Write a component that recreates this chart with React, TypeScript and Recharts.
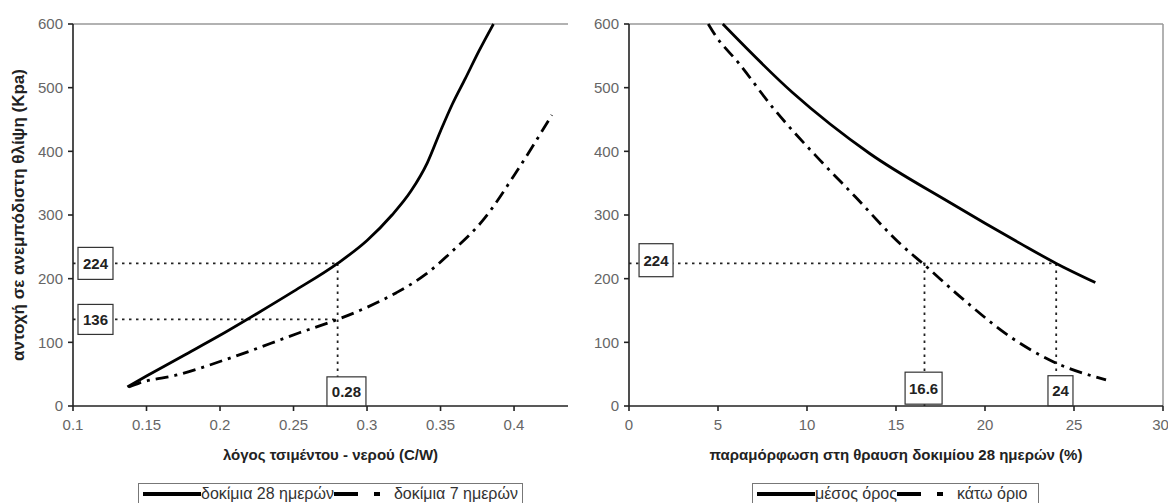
import { LineChart, Line, XAxis, YAxis, ReferenceLine, ReferenceDot } from "recharts";

// left panel: strength vs cement/water ratio
const cwTicks = [0.1, 0.15, 0.2, 0.25, 0.3, 0.35, 0.4];
const strengthTicks = [0, 100, 200, 300, 400, 500, 600];

const cw28 = [0.137, 0.15, 0.175, 0.2, 0.225, 0.25, 0.28, 0.3, 0.317, 0.33, 0.341, 0.35, 0.358, 0.367, 0.376, 0.386];
const strength28 = [30, 47, 79, 111, 145, 180, 224, 260, 300, 338, 382, 432, 474, 515, 557, 600];

const cw7 = [0.138, 0.145, 0.171, 0.209, 0.254, 0.28, 0.3, 0.32, 0.34, 0.3565, 0.38, 0.4, 0.4257];
const strength7 = [30, 36, 49, 77, 115, 136, 155, 178, 207, 240, 295, 362, 457];

// right panel: strength vs strain at failure
const strainTicks = [0, 5, 10, 15, 20, 25, 30];

const strainMean = [5.27, 9.2, 13.5, 18, 20, 22, 24, 26.2];
const strengthMean = [600, 492, 397, 320, 287, 255, 224, 194];

const strainLow = [4.45, 4.83, 6.15, 8.1, 10.7, 12.7, 15.3, 16.5, 18.8, 21.4, 23.8, 26.8];
const strengthLow = [600, 583, 539, 468, 387, 329, 253, 224, 167, 109, 70, 41];

// annotations
const cwMarker = 0.28;
const leftMarks = [224, 136];
const strainMarks = [16.6, 24];
const rightMark = 224;

const leftData28 = cw28.map((x, i) => ({ x, y: strength28[i] }));
const leftData7 = cw7.map((x, i) => ({ x, y: strength7[i] }));
const rightMeanData = strainMean.map((x, i) => ({ x, y: strengthMean[i] }));
const rightLowData = strainLow.map((x, i) => ({ x, y: strengthLow[i] }));

const FONT = '"Liberation Sans", Arial, sans-serif';
const tickStyle = { fill: "#666", fontSize: 15, fontFamily: FONT };
const titleStyle = { fill: "#222", fontSize: 15, fontWeight: "bold", fontFamily: FONT };
const axisLine = { stroke: "#222", strokeWidth: 1.6 };
const guide = { stroke: "#222", strokeWidth: 1.8, strokeDasharray: "2.5 4.5" };
const dashDot = "13 6 3 6";

function boxShape(text: string, w: number, h: number) {
  return (props: any) => {
    const { cx, cy } = props;
    return (
      <g>
        <rect x={cx - w / 2} y={cy - h / 2} width={w} height={h} fill="#fff" stroke="#333" strokeWidth={1.2} />
        <text x={cx} y={cy} dy="0.36em" textAnchor="middle" fontSize={15} fontWeight="bold" fill="#222" fontFamily={FONT}>
          {text}
        </text>
      </g>
    );
  };
}

function LegendBox({ left, width, items }: { left: number; width: number; items: Array<{ label: string; dashed: boolean }> }) {
  return (
    <div
      style={{
        position: "absolute",
        left,
        top: 483,
        width,
        height: 26,
        border: "1px solid #777",
        boxSizing: "border-box",
        display: "flex",
        alignItems: "center",
        paddingLeft: 4,
        paddingBottom: 4,
        fontFamily: FONT,
        fontSize: 16,
        color: "#333",
        background: "#fff",
        whiteSpace: "nowrap",
      }}
    >
      {items.map((it) => (
        <div key={it.label} style={{ display: "flex", alignItems: "center" }}>
          {it.dashed ? (
            <svg width={46} height={10} style={{ marginRight: 14 }}>
              <rect x={0} y={3} width={24} height={4} fill="#000" />
              <rect x={40} y={3} width={6} height={4} fill="#000" />
            </svg>
          ) : (
            <svg width={58} height={10}>
              <rect x={0} y={3} width={58} height={4} fill="#000" />
            </svg>
          )}
          <span>{it.label}</span>
        </div>
      ))}
    </div>
  );
}

export default function App() {
  return (
    <div style={{ position: "absolute", left: 0, top: 0, width: 1168, height: 503, overflow: "hidden", background: "#fff" }}>
      <div style={{ position: "absolute", left: 0, top: 0 }}>
        <LineChart width={580} height={503} margin={{ top: 24, right: 12, left: 0, bottom: 37 }}>
          <XAxis
            type="number"
            dataKey="x"
            domain={[0.1, 0.4367]}
            ticks={cwTicks}
            allowDataOverflow
            height={60}
            tick={tickStyle}
            tickSize={5}
            tickMargin={8}
            axisLine={axisLine}
            tickLine={axisLine}
            label={{ value: "λόγος τσιμέντου - νερού (C/W)", position: "insideBottom", offset: 6, dx: 10, style: titleStyle }}
          />
          <YAxis
            type="number"
            dataKey="y"
            domain={[0, 600]}
            ticks={strengthTicks}
            width={73}
            tick={tickStyle}
            tickSize={5}
            tickMargin={5}
            axisLine={axisLine}
            tickLine={axisLine}
            label={{
              value: "αντοχή σε ανεμπόδιστη θλίψη (Kpa)",
              angle: -90,
              position: "insideLeft",
              offset: 18,
              style: { ...titleStyle, fontSize: 17, textAnchor: "middle" },
            }}
          />
          <ReferenceLine y={600} stroke="#999" strokeWidth={1.5} />
          <ReferenceLine segment={[{ x: 0.1, y: leftMarks[0] }, { x: cwMarker, y: leftMarks[0] }]} {...guide} />
          <ReferenceLine segment={[{ x: 0.1, y: leftMarks[1] }, { x: cwMarker, y: leftMarks[1] }]} {...guide} />
          <ReferenceLine segment={[{ x: cwMarker, y: leftMarks[0] }, { x: cwMarker, y: 0 }]} {...guide} />
          <Line data={leftData28} dataKey="y" type="monotone" stroke="#000" strokeWidth={2.8} dot={false} isAnimationActive={false} />
          <Line data={leftData7} dataKey="y" type="monotone" stroke="#000" strokeWidth={2.8} strokeDasharray={dashDot} dot={false} isAnimationActive={false} />
          <ReferenceDot x={0.1153} y={leftMarks[0]} shape={boxShape("224", 35, 32)} />
          <ReferenceDot x={0.1153} y={leftMarks[1]} shape={boxShape("136", 35, 30)} />
          <ReferenceDot x={0.286} y={23} shape={boxShape("0.28", 39, 29)} />
        </LineChart>
      </div>

      <div style={{ position: "absolute", left: 580, top: 0 }}>
        <LineChart width={588} height={503} margin={{ top: 24, right: 5, left: 0, bottom: 37 }}>
          <XAxis
            type="number"
            dataKey="x"
            domain={[0, 30]}
            ticks={strainTicks}
            height={60}
            tick={tickStyle}
            tickSize={5}
            tickMargin={8}
            axisLine={axisLine}
            tickLine={axisLine}
            label={{ value: "παραμόρφωση στη θραυση δοκιμίου 28 ημερών (%)", position: "insideBottom", offset: 6, style: titleStyle }}
          />
          <YAxis
            type="number"
            dataKey="y"
            domain={[0, 600]}
            ticks={strengthTicks}
            width={49}
            tick={tickStyle}
            tickSize={5}
            tickMargin={5}
            axisLine={axisLine}
            tickLine={axisLine}
          />
          <ReferenceLine y={600} stroke="#999" strokeWidth={1.5} />
          <ReferenceLine x={30} stroke="#999" strokeWidth={1.5} />
          <ReferenceLine segment={[{ x: 0, y: rightMark }, { x: strainMarks[1], y: rightMark }]} {...guide} />
          <ReferenceLine segment={[{ x: strainMarks[0], y: rightMark }, { x: strainMarks[0], y: 0 }]} {...guide} />
          <ReferenceLine segment={[{ x: strainMarks[1], y: rightMark }, { x: strainMarks[1], y: 0 }]} {...guide} />
          <Line data={rightMeanData} dataKey="y" type="monotone" stroke="#000" strokeWidth={2.8} dot={false} isAnimationActive={false} />
          <Line data={rightLowData} dataKey="y" type="monotone" stroke="#000" strokeWidth={2.8} strokeDasharray={dashDot} dot={false} isAnimationActive={false} />
          <ReferenceDot x={1.52} y={229} shape={boxShape("224", 34, 33)} />
          <ReferenceDot x={16.55} y={28} shape={boxShape("16.6", 37, 32)} />
          <ReferenceDot x={24.24} y={24} shape={boxShape("24", 25, 30)} />
        </LineChart>
      </div>

      <LegendBox
        left={138}
        width={385}
        items={[
          { label: "δοκίμια 28 ημερών", dashed: false },
          { label: "δοκίμια 7 ημερών", dashed: true },
        ]}
      />
      <LegendBox
        left={752}
        width={287}
        items={[
          { label: "μέσος όρος", dashed: false },
          { label: "κάτω όριο", dashed: true },
        ]}
      />
    </div>
  );
}
